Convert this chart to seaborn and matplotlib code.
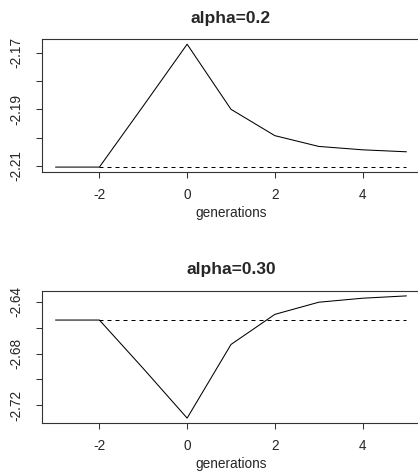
import matplotlib
matplotlib.use("Agg")
import matplotlib.pyplot as plt
import seaborn as sns
import pandas as pd

# Data
generations = [-3, -2, -1, 0, 1, 2, 3, 4, 5]
fitness_a02 = [-2.2104, -2.2104, -2.1888, -2.1670, -2.1900, -2.1993, -2.2031, -2.2043, -2.2050]
fitness_a030 = [-2.6540, -2.6540, -2.6915, -2.7299, -2.6729, -2.6496, -2.6402, -2.6371, -2.6353]
baseline_x = [-2, 5]
baseline_a02 = -2.2104
baseline_a030 = -2.6540
titles = ["alpha=0.2", "alpha=0.30"]
xticks = [-2, 0, 2, 4]
yticks_a02 = [-2.21, -2.20, -2.19, -2.18, -2.17]
ylabels_a02 = ["-2.21", "", "-2.19", "", "-2.17"]
yticks_a030 = [-2.72, -2.70, -2.68, -2.66, -2.64]
ylabels_a030 = ["-2.72", "", "-2.68", "", "-2.64"]

sns.set_style("ticks")
plt.rcParams['font.family'] = ['Liberation Sans', 'DejaVu Sans']

W, H = 418, 473
fig = plt.figure(figsize=(W / 100, H / 100), dpi=100)

def px_axes(left, top, right, bottom):
    return fig.add_axes([left / W, 1 - bottom / H, (right - left) / W, (bottom - top) / H])

panels = [
    (px_axes(41.5, 39.3, 420.5, 172), fitness_a02, baseline_a02, titles[0], yticks_a02, ylabels_a02),
    (px_axes(41.5, 291, 420.5, 423), fitness_a030, baseline_a030, titles[1], yticks_a030, ylabels_a030),
]

for ax, vals, base, title, yt, yl in panels:
    df = pd.DataFrame({"generations": generations, "value": vals})
    sns.lineplot(data=df, x="generations", y="value", ax=ax, color="black", linewidth=0.75)
    bdf = pd.DataFrame({"x": baseline_x, "y": [base, base]})
    sns.lineplot(data=bdf, x="x", y="y", ax=ax, color="black", linewidth=0.72,
                 linestyle=(0, (4, 4)))
    lo, hi = min(vals), max(vals)
    r = hi - lo
    ax.set_ylim(lo - 0.04 * r, hi + 0.04 * r)
    ax.set_xlim(-3 - 0.04 * 8, 5 + 0.04 * 8)
    ax.set_xticks(xticks)
    ax.set_xticklabels([str(t) for t in xticks], fontsize=9.8)
    ax.set_yticks(yt)
    ax.set_yticklabels(yl, fontsize=9.8, rotation=90, va="center")
    ax.tick_params(axis="x", length=4.3, width=0.75, pad=7, color="#333333")
    ax.tick_params(axis="y", length=4.3, width=0.75, pad=8.5, color="#333333")
    ax.set_xlabel("generations", fontsize=9.8, labelpad=3)
    ax.set_ylabel("")
    ax.set_title(title, fontsize=12.5, fontweight="bold", pad=12)
    for s in ax.spines.values():
        s.set_visible(True)
        s.set_linewidth(0.8)
        s.set_color("#333333")

fig.savefig("out.png", dpi=100)
